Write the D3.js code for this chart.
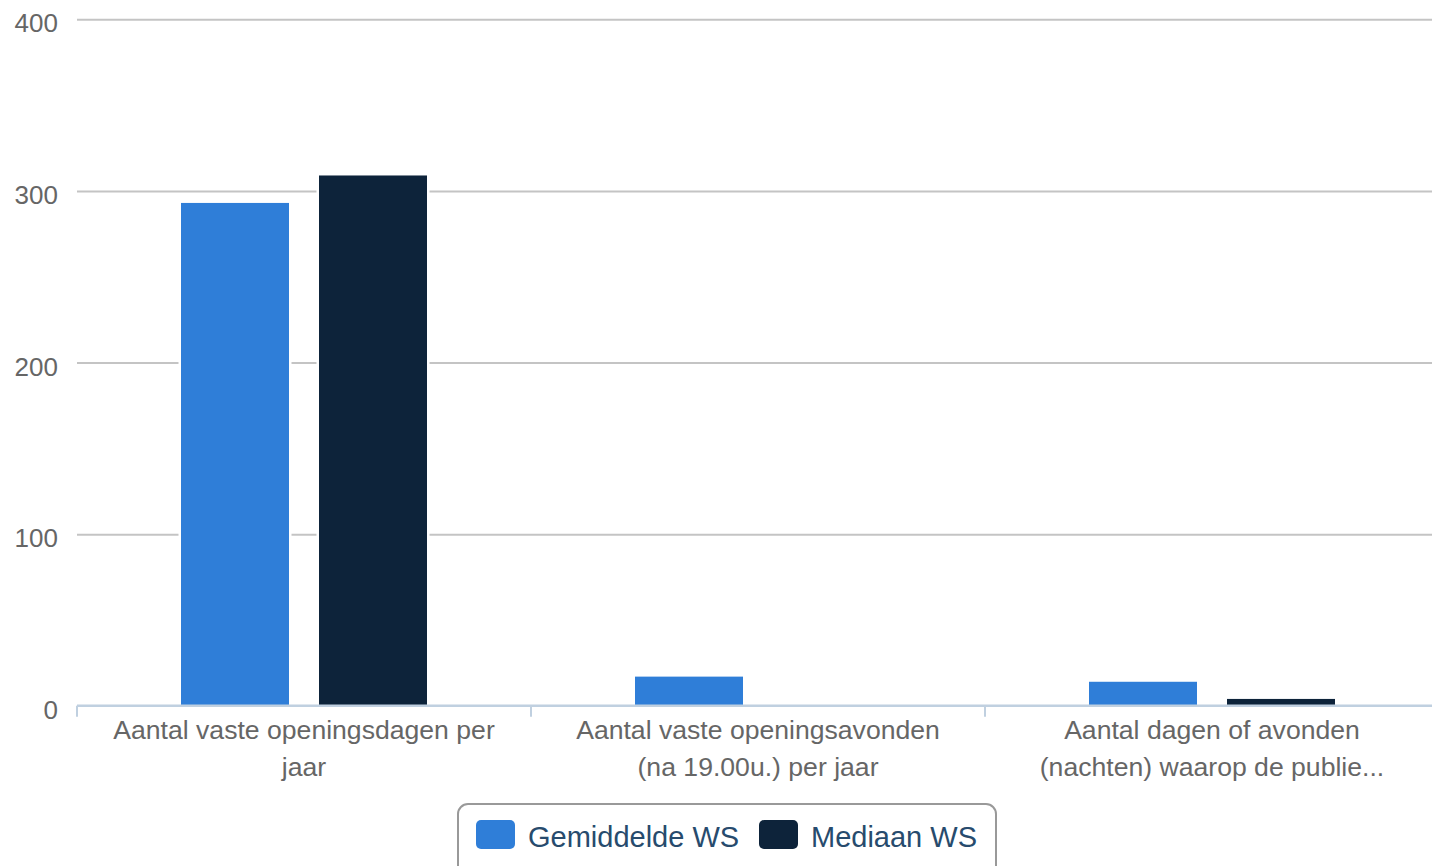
<!DOCTYPE html>
<html>
<head>
<meta charset="utf-8">
<script src="https://cdn.jsdelivr.net/npm/d3@7/dist/d3.min.js"></script>
<style>
  html, body { margin: 0; padding: 0; background: #fff; }
  svg { display: block; font-family: "Liberation Sans", Arial, Helvetica, sans-serif; }
</style>
</head>
<body>
<svg id="chart" width="1432" height="866"></svg>
<script>
// ---- data ----
const categories = [
  "Aantal vaste openingsdagen per jaar",
  "Aantal vaste openingsavonden (na 19.00u.) per jaar",
  "Aantal dagen of avonden (nachten) waarop de publie..."
];
const categoryLines = [
  ["Aantal vaste openingsdagen per", "jaar"],
  ["Aantal vaste openingsavonden", "(na 19.00u.) per jaar"],
  ["Aantal dagen of avonden", "(nachten) waarop de publie..."]
];
const seriesNames = ["Gemiddelde WS", "Mediaan WS"];
const gemiddeldeWS = [293, 17, 14];
const mediaanWS = [309, 0, 4];
const yTicks = [0, 100, 200, 300, 400];
const seriesColors = ["#2f7ed8", "#0d233a"];

// ---- layout ----
const svg = d3.select("#chart");
const W = 1432, H = 866;
const plotLeft = 77, catWidth = 454;
const plotRight = plotLeft + catWidth * categories.length;
const y0 = 705.8, yTop = 19.3;

const x0 = d3.scaleBand().domain(categories).range([plotLeft, plotRight]).paddingInner(0).paddingOuter(0);
const x1 = d3.scaleBand().domain(seriesNames).range([0, x0.bandwidth()])
  .paddingInner(30 / 138).paddingOuter(104 / 138);
const y = d3.scaleLinear().domain([0, 400]).range([y0, yTop]);

// gridlines
const grid = d3.axisLeft(y).tickValues(yTicks.filter(v => v > 0)).tickSize(-(W - plotLeft)).tickFormat("");
svg.append("g").attr("transform", `translate(${plotLeft},0)`).call(grid)
  .call(g => g.select(".domain").remove())
  .call(g => g.selectAll("line").attr("stroke", "#c4c4c4").attr("stroke-width", 2));

// y labels
const yAxis = d3.axisLeft(y).tickValues(yTicks).tickSize(0).tickPadding(0);
svg.append("g").attr("transform", `translate(58,0)`).call(yAxis)
  .call(g => g.select(".domain").remove())
  .call(g => g.selectAll("text")
    .attr("font-size", 26).attr("fill", "#666")
    .attr("font-family", "'Liberation Sans', Arial, sans-serif")
    .attr("dy", "0.48em").attr("x", 0).attr("text-anchor", "end"));

// bars
const rows = categories.map((c, i) => ({ cat: c, vals: [gemiddeldeWS[i], mediaanWS[i]] }));
const groups = svg.append("g").selectAll("g").data(rows).join("g")
  .attr("transform", d => `translate(${x0(d.cat)},0)`);
groups.selectAll("rect").data(d => d.vals.map((v, j) => ({ s: seriesNames[j], v, j })))
  .join("rect")
  .filter(d => d.v > 0)
  .attr("x", d => x1(d.s))
  .attr("width", x1.bandwidth())
  .attr("y", d => y(d.v))
  .attr("height", d => y0 - y(d.v))
  .attr("fill", d => seriesColors[d.j])
  .attr("stroke", "#fff")
  .attr("stroke-width", 5)
  .style("paint-order", "stroke");

// x axis
const xAxisG = svg.append("g");
xAxisG.append("line").attr("x1", plotLeft).attr("x2", W).attr("y1", y0).attr("y2", y0)
  .attr("stroke", "#c0d0e0").attr("stroke-width", 2.5);
const tickPositions = categories.map(c => x0(c)).concat([plotRight]);
xAxisG.selectAll("line.tick").data(tickPositions).join("line").attr("class", "tick")
  .attr("x1", d => d).attr("x2", d => d).attr("y1", y0).attr("y2", y0 + 11)
  .attr("stroke", "#c0d0e0").attr("stroke-width", 2);

// category labels
const labels = svg.append("g").selectAll("text").data(categories).join("text")
  .attr("text-anchor", "middle").attr("font-size", 26.6).attr("fill", "#666")
  .attr("transform", d => `translate(${x0(d) + x0.bandwidth() / 2},739)`);
labels.each(function(d, i) {
  d3.select(this).selectAll("tspan").data(categoryLines[i]).join("tspan")
    .attr("x", 0).attr("y", (l, k) => k * 37).text(l => l);
});

// legend
const lg = svg.append("g");
lg.append("rect").attr("x", 458).attr("y", 804).attr("width", 538).attr("height", 90)
  .attr("rx", 10).attr("fill", "#fff").attr("stroke", "#999").attr("stroke-width", 2);
const legendX = [476, 759];
const items = lg.selectAll("g").data(seriesNames).join("g")
  .attr("transform", (d, i) => `translate(${legendX[i]},0)`);
items.append("rect").attr("x", 0).attr("y", 820).attr("width", 39).attr("height", 29)
  .attr("rx", 5).attr("fill", (d, i) => seriesColors[i]);
items.append("text").attr("x", 52).attr("y", 847).attr("font-size", 29)
  .attr("fill", "#274b6d").text(d => d);
</script>
</body>
</html>
